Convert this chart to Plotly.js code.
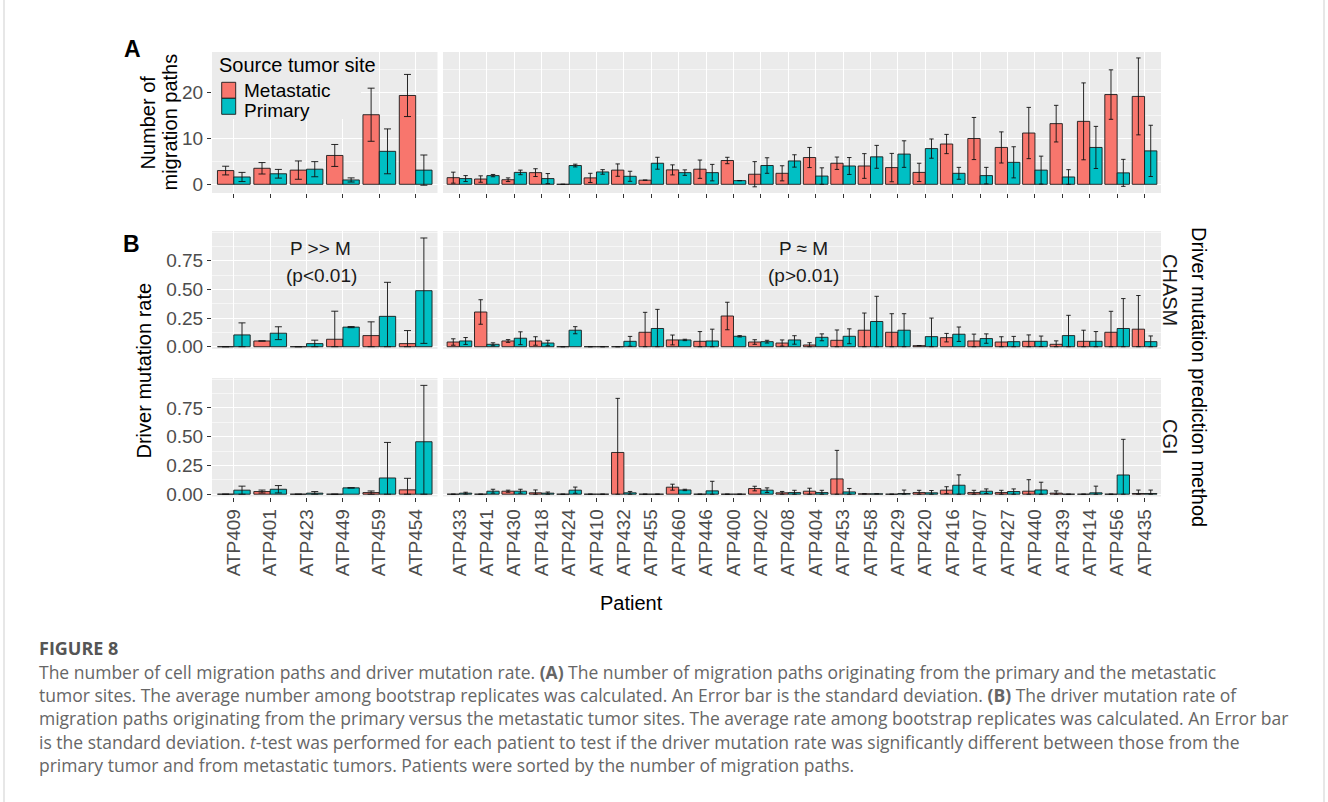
<!DOCTYPE html>
<html><head><meta charset="utf-8">
<script src="https://cdn.plot.ly/plotly-3.0.1.min.js"></script>
<style>html,body{margin:0;padding:0;background:#fff}#chart{width:1328px;height:802px}</style>
</head><body><div id="chart"></div>
<script>
// ---------- data ----------
const patients = ['ATP409','ATP401','ATP423','ATP449','ATP459','ATP454',
  'ATP433','ATP441','ATP430','ATP418','ATP424','ATP410','ATP432','ATP455','ATP460','ATP446',
  'ATP400','ATP402','ATP408','ATP404','ATP453','ATP458','ATP429','ATP420','ATP416','ATP407',
  'ATP427','ATP440','ATP439','ATP414','ATP456','ATP435'];
const nLeft = 6; // patients in the "P >> M" group

// (A) number of migration paths
const pathsMet   = [3.0,3.5,3.1,6.3,15.2,19.4, 1.45,1.15,1.0,2.55,0,1.4,3.1,0.9,3.15,3.3,5.2,2.2,2.4,5.85,4.6,4.0,3.65,2.6,8.8,10.0,8.05,11.2,13.25,13.75,19.6,19.2];
const pathsMetSD = [0.95,1.25,2.0,2.4,5.8,4.6, 1.2,0.7,0.4,0.85,0,1.0,1.35,0,1.1,2.0,0.7,2.75,1.65,2.2,1.35,2.7,3.1,2.0,2.1,4.6,3.4,5.6,4.0,8.4,5.4,8.4];
const pathsPri   = [1.6,2.3,3.3,0.95,7.2,3.1, 1.25,1.9,2.6,1.25,4.1,2.7,1.75,4.6,2.55,2.55,0.8,4.1,5.1,1.8,4.0,6.0,6.6,7.8,2.4,1.9,4.8,3.1,1.6,8.05,2.5,7.3];
const pathsPriSD = [1.0,0.95,1.65,0.45,4.9,3.3, 0.65,0.25,0.5,1.1,0.3,0.5,1.1,1.3,0.6,1.8,0,1.7,1.35,1.8,1.85,2.5,2.9,2.1,1.3,1.8,3.4,3.05,1.6,4.6,2.95,5.6];

// (B) driver mutation rate, CHASM
const chasmMet   = [0,0.05,0,0.065,0.097,0.027, 0.041,0.303,0.05,0.05,0,0,0,0.126,0.059,0.047,0.268,0.041,0.032,0.015,0.056,0.144,0.126,0.009,0.079,0.05,0.041,0.047,0.021,0.047,0.126,0.153];
const chasmMetSD = [0,0,0,0.245,0.12,0.114, 0.028,0.107,0.012,0.037,0,0,0,0.174,0.043,0.085,0.12,0.02,0.027,0.02,0.09,0.15,0.162,0,0.037,0.06,0.046,0.056,0.03,0.097,0.183,0.294];
const chasmPri   = [0.103,0.118,0.027,0.171,0.265,0.489, 0.05,0.021,0.074,0.032,0.144,0,0.047,0.159,0.059,0.05,0.091,0.044,0.059,0.082,0.091,0.22,0.144,0.088,0.109,0.071,0.044,0.047,0.097,0.047,0.159,0.044];
const chasmPriSD = [0.105,0.056,0.03,0.005,0.297,0.46, 0.03,0.013,0.056,0.024,0.031,0,0.043,0.167,0.006,0.103,0.006,0.012,0.037,0.03,0.065,0.22,0.144,0.162,0.063,0.041,0.046,0.046,0.177,0.085,0.261,0.05];

// (B) driver mutation rate, CGI
const cgiMet   = [0,0.023,0,0,0.014,0.038, 0,0,0.026,0.012,0,0,0.363,0,0.061,0,0,0.049,0.012,0.026,0.133,0.003,0,0.014,0.035,0.014,0.014,0.026,0.009,0,0,0.006];
const cgiMetSD = [0,0.013,0,0,0.014,0.1, 0,0,0.009,0.025,0,0,0.47,0,0.026,0,0,0.02,0.012,0.026,0.248,0,0,0.02,0.03,0.02,0.02,0.1,0.02,0,0,0.03];
const cgiPri   = [0.035,0.043,0.009,0.055,0.141,0.456, 0.009,0.026,0.026,0.009,0.035,0,0.012,0,0.037,0.029,0,0.035,0.014,0.014,0.02,0.003,0.006,0.012,0.078,0.026,0.023,0.037,0,0.012,0.167,0.006];
const cgiPriSD = [0.035,0.032,0.014,0,0.309,0.49, 0.008,0.017,0.017,0.01,0.027,0,0.012,0,0.006,0.083,0,0.02,0.02,0.02,0.03,0,0.03,0.02,0.09,0.02,0.023,0.067,0,0.058,0.31,0.03];

const seriesNames = ['Metastatic','Primary'];
const legendTitle = 'Source tumor site';
const yTicksA = [0,10,20];
const yMinorA = [5,15,25];
const yTicksB = [0,0.25,0.5,0.75];
const yMinorB = [0.125,0.375,0.625,0.875,1.0];

// ---------- style ----------
const W = 1328, H = 802;
const COL_M = '#F8766D', COL_P = '#00BFC4';
const FONT = 'Liberation Sans, Arial, sans-serif';
const px = x => x / W, py = y => 1 - y / H;

const groups = [
  {x: patients.slice(0, nLeft), s: 0, e: nLeft, xr: [-0.6, nLeft - 0.4], dom: [px(212), px(437.5)], cap: 3.5},
  {x: patients.slice(nLeft), s: nLeft, e: patients.length, xr: [-0.6, patients.length - nLeft - 0.4], dom: [px(443), px(1161)], cap: 2.2}
];
const rows = [
  {met: pathsMet, metSD: pathsMetSD, pri: pathsPri, priSD: pathsPriSD, clip: false, dom: [py(193), py(52)], range: [-1.9, 28.9], tv: yTicksA, mv: yMinorA, fmt: 'd', tfs: 19, xt: 'ticks'},
  {met: chasmMet, metSD: chasmMetSD, pri: chasmPri, priSD: chasmPriSD, clip: true, dom: [py(349), py(231)], range: [-0.02, 1.01], tv: yTicksB, mv: yMinorB, fmt: '.2f', tfs: 19, xt: 'none'},
  {met: cgiMet, metSD: cgiMetSD, pri: cgiPri, priSD: cgiPriSD, clip: true, dom: [py(496.5), py(378)], range: [-0.02, 1.01], tv: yTicksB, mv: yMinorB, fmt: '.2f', tfs: 19, xt: 'labels'}
];

const traces = [];
const layout = {
  width: W, height: H, autosize: false,
  margin: {l: 0, r: 0, t: 0, b: 0, pad: 0},
  paper_bgcolor: '#fff', plot_bgcolor: '#EBEBEB',
  font: {family: FONT, color: '#000'},
  barmode: 'group', bargap: 0.1, bargroupgap: 0,
  showlegend: false,
  annotations: [], shapes: []
};

let k = 0;
rows.forEach((r, ri) => {
  groups.forEach((g, gi) => {
    k++;
    const xa = 'x' + (k === 1 ? '' : k), ya = 'y' + (k === 1 ? '' : k);
    const mk = (vals, sds, name, col) => {
      const v = vals.slice(g.s, g.e), sd = sds.slice(g.s, g.e);
      return {
        type: 'bar', name: name, x: g.x, y: v, xaxis: xa, yaxis: ya,
        marker: {color: col, line: {color: '#1a1a1a', width: 0.9}},
        error_y: {type: 'data', visible: true, symmetric: false, array: sd,
          arrayminus: r.clip ? sd.map((s, i) => Math.min(s, v[i])) : sd,
          color: '#111', thickness: 0.9, width: g.cap},
        hoverinfo: 'x+y'
      };
    };
    traces.push(mk(r.met, r.metSD, seriesNames[0], COL_M));
    traces.push(mk(r.pri, r.priSD, seriesNames[1], COL_P));
    const xkey = 'xaxis' + (k === 1 ? '' : k), ykey = 'yaxis' + (k === 1 ? '' : k);
    layout[xkey] = {
      type: 'category', categoryorder: 'array', categoryarray: g.x,
      domain: g.dom, range: g.xr, anchor: ya,
      showgrid: true, gridcolor: '#fff', gridwidth: 1.1, zeroline: false, showline: false,
      ticks: r.xt === 'none' ? '' : 'outside', ticklen: 4, tickwidth: 1, tickcolor: '#333',
      showticklabels: r.xt === 'labels', tickangle: -90,
      tickfont: {family: FONT, size: 19, color: '#4D4D4D'}, fixedrange: true
    };
    layout[ykey] = {
      domain: r.dom, range: r.range, anchor: xa,
      tickmode: 'array', tickvals: r.tv, tickformat: r.fmt,
      showgrid: true, gridcolor: '#fff', gridwidth: 1.1, zeroline: false, showline: false,
      ticks: gi === 0 ? 'outside' : '', ticklen: 4, tickwidth: 1, tickcolor: '#333',
      showticklabels: gi === 0, tickfont: {family: FONT, size: r.tfs, color: '#4D4D4D'},
      minor: {tickmode: 'array', tickvals: r.mv, showgrid: true, gridcolor: '#fff', gridwidth: 0.55, ticks: ''},
      fixedrange: true
    };
  });
});

// ---------- annotations ----------
const A = layout.annotations;
const ann = (text, x, y, o) => A.push(Object.assign({text: text, x: px(x), y: py(y), xref: 'paper', yref: 'paper',
  showarrow: false, xanchor: 'center', yanchor: 'middle', font: {family: FONT, size: 20, color: '#000'}}, o || {}));

ann('<b>A</b>', 132, 49, {font: {family: FONT, size: 23, color: '#000'}});
ann('<b>B</b>', 131, 244, {font: {family: FONT, size: 23, color: '#000'}});
ann('Number of', 148, 122.5, {textangle: -90});
ann('migration paths', 170, 122.5, {textangle: -90});
ann('Driver mutation rate', 143.5, 371, {textangle: -90});
ann('Patient', 631, 603);
ann('P &gt;&gt; M', 320, 248.5, {font: {family: FONT, size: 19, color: '#1a1a1a'}});
ann('(p&lt;0.01)', 321, 275, {font: {family: FONT, size: 19, color: '#1a1a1a'}});
ann('P ≈ M', 803, 248.5, {font: {family: FONT, size: 19, color: '#1a1a1a'}});
ann('(p&gt;0.01)', 803, 275, {font: {family: FONT, size: 19, color: '#1a1a1a'}});
ann('CHASM', 1170, 290, {textangle: 90, font: {family: FONT, size: 20, color: '#1a1a1a'}});
ann('CGI', 1170, 437, {textangle: 90, font: {family: FONT, size: 20, color: '#1a1a1a'}});
ann('Driver mutation prediction method', 1199, 377, {textangle: 90});

// legend (drawn inside panel A)
const S = layout.shapes;
S.push({type: 'rect', xref: 'paper', yref: 'paper', x0: px(212), x1: px(361), y0: py(119), y1: py(52), fillcolor: '#EBEBEB', line: {width: 0}, layer: 'above'});
S.push({type: 'rect', xref: 'paper', yref: 'paper', x0: px(221.7), x1: px(235.7), y0: py(98.3), y1: py(82.3), fillcolor: COL_M, line: {color: '#1a1a1a', width: 0.9}, layer: 'above'});
S.push({type: 'rect', xref: 'paper', yref: 'paper', x0: px(221.7), x1: px(235.7), y0: py(114.3), y1: py(98.3), fillcolor: COL_P, line: {color: '#1a1a1a', width: 0.9}, layer: 'above'});
ann(legendTitle, 216.7, 65, {xanchor: 'left'});
ann(seriesNames[0], 241.7, 90, {xanchor: 'left', font: {family: FONT, size: 19, color: '#000'}});
ann(seriesNames[1], 241.7, 111, {xanchor: 'left', font: {family: FONT, size: 19, color: '#000'}});

// outer frame
S.push({type: 'line', xref: 'paper', yref: 'paper', x0: px(4), x1: px(4), y0: -0.01, y1: 1.01, line: {color: '#cfcfcf', width: 1}});
S.push({type: 'line', xref: 'paper', yref: 'paper', x0: px(1324), x1: px(1324), y0: -0.01, y1: 1.01, line: {color: '#cfcfcf', width: 1}});

// caption
const CAP = 'Open Sans, Noto Sans, sans-serif';
ann('<b>FIGURE 8</b>', 37, 648, {xanchor: 'left', font: {family: CAP, size: 18, color: '#555'}});
const captionLines = [
  'The number of cell migration paths and driver mutation rate. <b>(A)</b> The number of migration paths originating from the primary and the metastatic',
  'tumor sites. The average number among bootstrap replicates was calculated. An Error bar is the standard deviation. <b>(B)</b> The driver mutation rate of',
  'migration paths originating from the primary versus the metastatic tumor sites. The average rate among bootstrap replicates was calculated. An Error bar',
  'is the standard deviation. <i>t</i>-test was performed for each patient to test if the driver mutation rate was significantly different between those from the',
  'primary tumor and from metastatic tumors. Patients were sorted by the number of migration paths.'
];
captionLines.forEach((t, i) => ann(t, 37, 671.5 + i * 23.4, {xanchor: 'left', font: {family: CAP, size: 17.5, color: '#666'}}));

Plotly.newPlot('chart', traces, layout, {staticPlot: true, displayModeBar: false});
</script></body></html>
